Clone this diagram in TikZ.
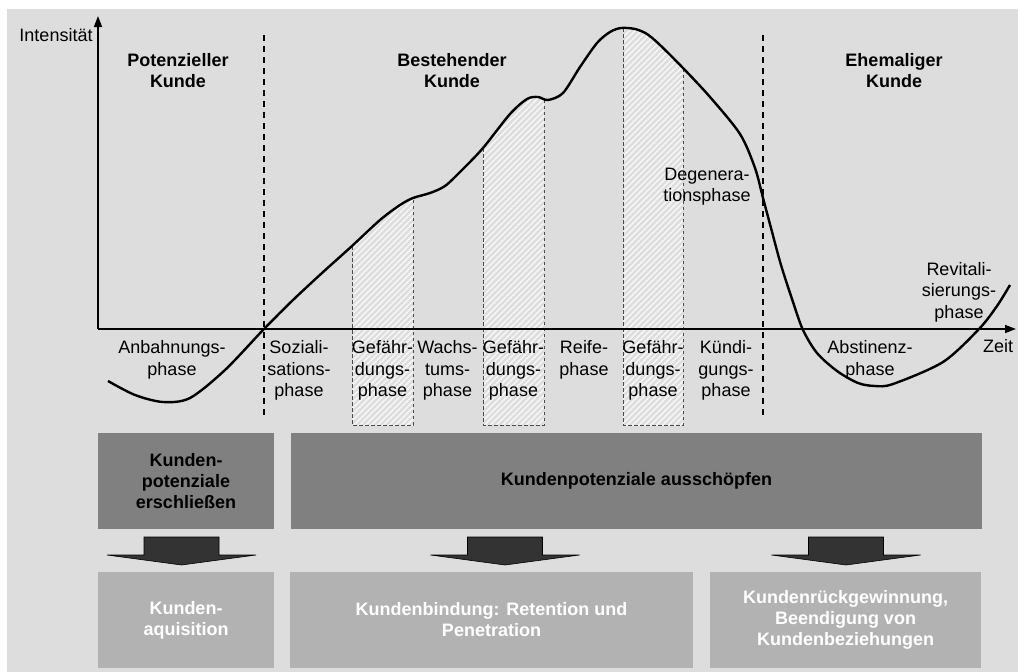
\documentclass[tikz,border=0pt]{standalone}
\usepackage{fontspec}
\setmainfont{Liberation Sans}
\usetikzlibrary{arrows.meta,patterns.meta}

\definecolor{bg}{HTML}{DDDDDD}
\definecolor{darkbox}{HTML}{808080}
\definecolor{lightbox}{HTML}{B2B2B2}
\definecolor{arrowfill}{HTML}{333333}
\definecolor{hatchline}{HTML}{F6F6F6}
\definecolor{hatchedge}{HTML}{4A4A4A}

% customer life cycle curve (intensity over time)
\newcommand\lifecurve{plot[smooth,tension=0.5] coordinates {
 (108,381) (135,395) (163,402) (190,398) (225,370) (264,329) (293,300)
 (322,273) (352,246) (380,220) (400,205) (413,198) (430,193) (445,186)
 (462,170) (483,148) (510,114) (527,99) (538,97) (548,100) (563,93)
 (580,67) (597,43) (610,32) (621,28) (635,29) (647,34) (660,45)
 (683,68) (710,97) (740,134) (755,168) (763,198) (771,228) (781,265)
 (793,302) (803,330) (817,353) (837,371) (858,383) (875,386) (893,384)
 (943,362) (979,329) (997,306) (1010,285)}}

\begin{document}
\begin{tikzpicture}[x=1pt,y=-1pt,
  every node/.style={font=\fontsize{18}{21.5}\selectfont, inner sep=0pt},
  lbl/.style={align=center},
  title/.style={align=center, font=\fontsize{18}{20.5}\selectfont\bfseries},
  axis/.style={line width=1.5pt, -{Triangle[length=11pt,width=8pt]}},
  divider/.style={line width=1.8pt, dash pattern=on 6pt off 5pt},
  hatch/.style={pattern={Lines[angle=45,distance=4.2pt,line width=1.6pt]},
                pattern color=hatchline},
  riskedge/.style={line width=1pt, hatchedge, dash pattern=on 3.5pt off 2.5pt},
  curve/.style={line width=2.4pt, line join=round},
  taskbox/.style={draw=none, align=center, font=\fontsize{18}{21}\selectfont\bfseries},
  goal/.style={taskbox, fill=darkbox, text=black},
  measure/.style={taskbox, fill=lightbox, text=white},
  blockarrow/.pic={
    \filldraw[fill=arrowfill, draw=black, line width=0.6pt]
      (-37.5,-14) -- (37.5,-14) -- (37.5,4) -- (74.5,4) -- (0,14)
      -- (-74.5,4) -- (-37.5,4) -- cycle;}
]
% page and background
\useasboundingbox (0,0) rectangle (1018,672);
\fill[bg] (7,9) rectangle (1018,672);

% hatched risk phases below the curve
\begin{scope}
  \clip \lifecurve -- (1010,440) -- (108,440) -- cycle;
  \fill[hatch] (352,0) rectangle (413,425);
  \fill[hatch] (483,0) rectangle (544,425);
  \fill[hatch] (623,0) rectangle (683,425);
\end{scope}
\draw[riskedge] (352,246) -- (352,425) -- (413,425) -- (413,198);
\draw[riskedge] (483,148) -- (483,425) -- (544,425) -- (544,99);
\draw[riskedge] (623,28) -- (623,425) -- (683,425) -- (683,68);

% axes
\coordinate (origin) at (98,329);
\coordinate (ytip) at (98,16);
\coordinate (xtip) at (1016,329);
\draw[axis] (origin) -- (ytip);
\draw[axis] (origin) -- (xtip);
\node (ylabel) at (56,35.5) {Intensität};
\node (xlabel) at (998,346.5) {Zeit};

% customer status dividers
\coordinate (d1top) at (264,35);
\coordinate (d1bot) at (264,418);
\coordinate (d2top) at (763,35);
\coordinate (d2bot) at (763,418);
\draw[divider] (d1top) -- (d1bot);
\draw[divider] (d2top) -- (d2bot);

% life cycle curve
\draw[curve] \lifecurve;

% customer status titles
\node[title] (potenziell) at (178,70.5) {Potenzieller\\Kunde};
\node[title] (bestehend) at (452,70.5) {Bestehender\\Kunde};
\node[title] (ehemalig) at (894,70.5) {Ehemaliger\\Kunde};

% phase labels
\node[lbl] (anbahnung) at (172,360) {Anbahnungs-\\phase};
\node[lbl] (sozial) at (299,370.5) {Soziali-\\sations-\\phase};
\node[lbl] (gef1) at (382.5,370.5) {Gefähr-\\dungs-\\phase};
\node[lbl] (wachstum) at (447.5,370.5) {Wachs-\\tums-\\phase};
\node[lbl] (gef2) at (513.5,370.5) {Gefähr-\\dungs-\\phase};
\node[lbl] (reife) at (584,360) {Reife-\\phase};
\node[lbl] (gef3) at (653,370.5) {Gefähr-\\dungs-\\phase};
\node[lbl] (kuendigung) at (726,370.5) {Kündi-\\gungs-\\phase};
\node[lbl] (abstinenz) at (870,360) {Abstinenz-\\phase};
\node[lbl] (degeneration) at (707,186.5) {Degenera-\\tionsphase};
\node[lbl] (revital) at (959,292) {Revitali-\\sierungs-\\phase};

% management tasks
\node[goal, minimum width=176pt, minimum height=96pt] (erschliessen) at (186,481)
  {Kunden-\\potenziale\\erschließen};
\node[goal, minimum width=691pt, minimum height=96pt] (ausschoepfen) at (636.5,481)
  {Kundenpotenziale ausschöpfen};
\node[measure, minimum width=176pt, minimum height=96pt] (akquise) at (186,620)
  {Kunden-\\aquisition};
\node[measure, minimum width=403pt, minimum height=96pt] (bindung) at (491.5,620)
  {Kundenbindung: Retention und\\Penetration};
\node[measure, minimum width=271pt, minimum height=96pt] (rueck) at (845.5,620)
  {Kundenrückgewinnung,\\Beendigung von\\Kundenbeziehungen};

% arrows from tasks to measures
\pic at (181.5,551) {blockarrow};
\pic at (505,551) {blockarrow};
\pic at (846,551) {blockarrow};
\end{tikzpicture}
\end{document}
